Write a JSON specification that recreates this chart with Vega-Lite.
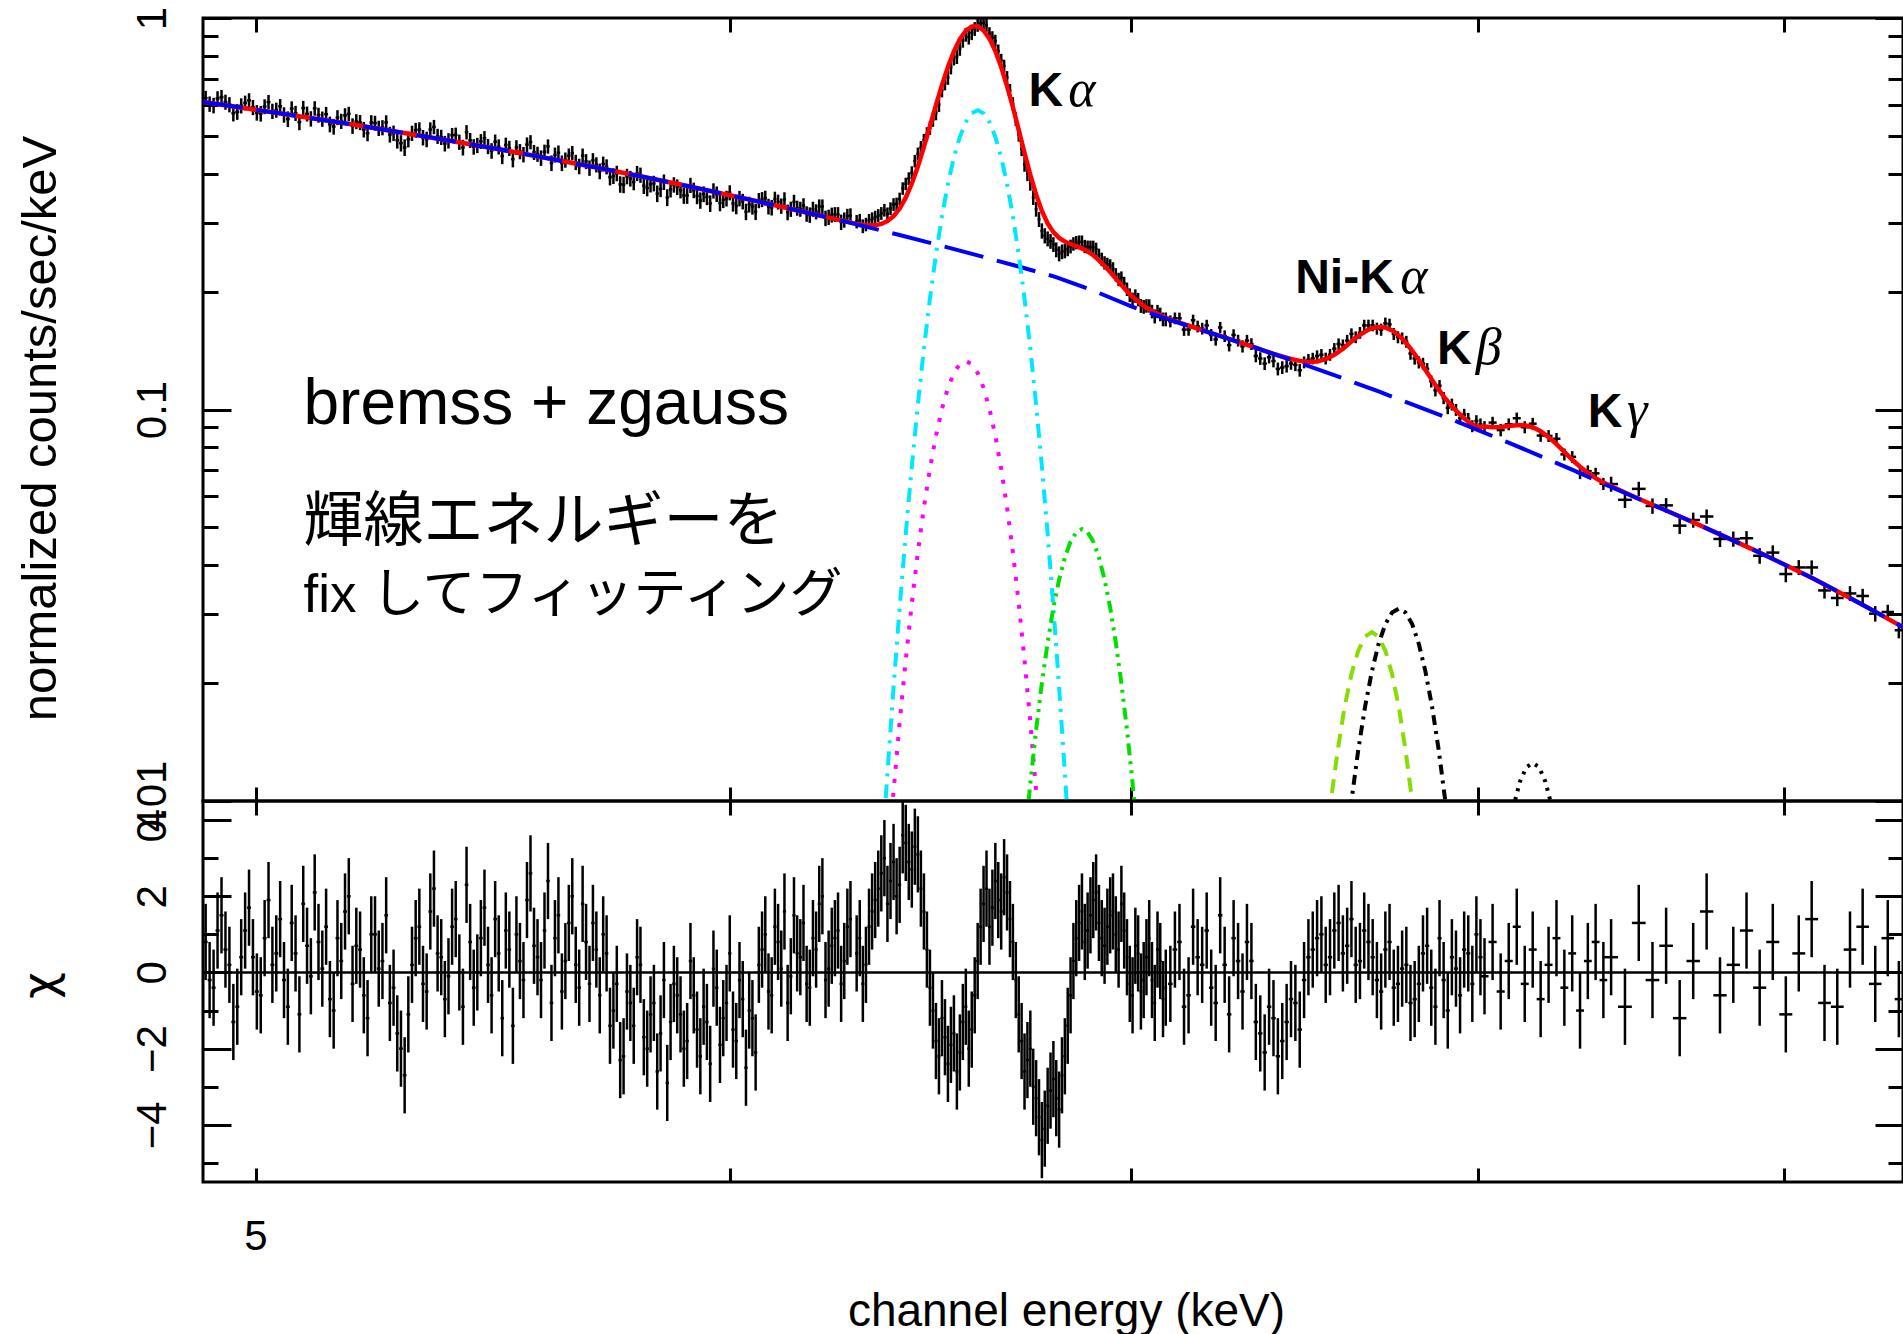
{
"$schema":"https://vega.github.io/schema/vega-lite/v6.json",
"padding":{"left":14,"top":4,"right":2,"bottom":0},
"spacing":0,
"bounds":"flush",
"datasets":{
"spec":[
{"e":4.905,"w":0.00375,"v":0.624,"s":0.0275,"c":0.8,"u":1},
{"e":4.92,"w":0.00375,"v":0.598,"s":0.0273,"c":-0.4,"u":1},
{"e":4.935,"w":0.00375,"v":0.628,"s":0.027,"c":1.5,"u":1},
{"e":4.95,"w":0.00375,"v":0.601,"s":0.0269,"c":0.2,"u":1},
{"e":4.965,"w":0.00375,"v":0.576,"s":0.0267,"c":-0.9,"u":1},
{"e":4.98,"w":0.00375,"v":0.607,"s":0.0264,"c":1.1,"u":1},
{"e":4.995,"w":0.00375,"v":0.591,"s":0.0263,"c":0.4,"u":1},
{"e":5.01,"w":0.00375,"v":0.57,"s":0.0261,"c":-0.6,"u":1},
{"e":5.025,"w":0.00375,"v":0.61,"s":0.026,"c":1.9,"u":1},
{"e":5.04,"w":0.00375,"v":0.582,"s":0.0258,"c":0.5,"u":1},
{"e":5.055,"w":0.00375,"v":0.566,"s":0.0257,"c":-0.2,"u":1},
{"e":5.07,"w":0.00375,"v":0.587,"s":0.0255,"c":1.3,"u":1},
{"e":5.085,"w":0.00375,"v":0.542,"s":0.0252,"c":-1.1,"u":1},
{"e":5.1,"w":0.00375,"v":0.569,"s":0.0251,"c":0.7,"u":1},
{"e":5.115,"w":0.00375,"v":0.588,"s":0.0249,"c":2.1,"u":1},
{"e":5.13,"w":0.00375,"v":0.552,"s":0.0248,"c":0.1,"u":1},
{"e":5.145,"w":0.00375,"v":0.535,"s":0.0246,"c":-0.7,"u":1},
{"e":5.16,"w":0.00375,"v":0.557,"s":0.0245,"c":0.9,"u":1},
{"e":5.175,"w":0.00375,"v":0.564,"s":0.0242,"c":1.6,"u":1},
{"e":5.19,"w":0.00375,"v":0.53,"s":0.0242,"c":-0.3,"u":1},
{"e":5.205,"w":0.00375,"v":0.541,"s":0.0239,"c":0.6,"u":1},
{"e":5.22,"w":0.00375,"v":0.508,"s":0.0237,"c":-1.2,"u":1},
{"e":5.235,"w":0.00375,"v":0.539,"s":0.0236,"c":1.0,"u":1},
{"e":5.25,"w":0.00375,"v":0.525,"s":0.0234,"c":0.3,"u":1},
{"e":5.265,"w":0.00375,"v":0.504,"s":0.0233,"c":-0.8,"u":1},
{"e":5.28,"w":0.00375,"v":0.487,"s":0.0231,"c":-1.6,"u":1},
{"e":5.295,"w":0.00375,"v":0.467,"s":0.0228,"c":-2.7,"u":1},
{"e":5.31,"w":0.00375,"v":0.508,"s":0.0228,"c":0.2,"u":1},
{"e":5.325,"w":0.00375,"v":0.519,"s":0.0225,"c":1.2,"u":1},
{"e":5.34,"w":0.00375,"v":0.49,"s":0.0224,"c":-0.5,"u":1},
{"e":5.355,"w":0.00375,"v":0.527,"s":0.0222,"c":2.2,"u":1},
{"e":5.37,"w":0.00375,"v":0.496,"s":0.0221,"c":0.4,"u":1},
{"e":5.385,"w":0.00375,"v":0.486,"s":0.0219,"c":-0.1,"u":1},
{"e":5.4,"w":0.00375,"v":0.503,"s":0.0218,"c":1.4,"u":1},
{"e":5.415,"w":0.00375,"v":0.467,"s":0.0216,"c":-0.9,"u":1},
{"e":5.43,"w":0.00375,"v":0.487,"s":0.0215,"c":0.8,"u":1},
{"e":5.445,"w":0.00375,"v":0.473,"s":0.0213,"c":0.0,"u":1},
{"e":5.46,"w":0.00375,"v":0.493,"s":0.0212,"c":1.7,"u":1},
{"e":5.475,"w":0.00375,"v":0.458,"s":0.021,"c":-0.6,"u":1},
{"e":5.49,"w":0.00375,"v":0.469,"s":0.0209,"c":0.5,"u":1},
{"e":5.505,"w":0.00375,"v":0.474,"s":0.0207,"c":1.1,"u":1},
{"e":5.52,"w":0.00375,"v":0.436,"s":0.0206,"c":-1.4,"u":1},
{"e":5.535,"w":0.00375,"v":0.456,"s":0.0204,"c":0.3,"u":1},
{"e":5.55,"w":0.00375,"v":0.475,"s":0.0203,"c":1.9,"u":1},
{"e":5.565,"w":0.00375,"v":0.454,"s":0.0201,"c":0.7,"u":1},
{"e":5.58,"w":0.00375,"v":0.439,"s":0.02,"c":-0.2,"u":1},
{"e":5.595,"w":0.00375,"v":0.47,"s":0.0197,"c":2.4,"u":1},
{"e":5.61,"w":0.00375,"v":0.447,"s":0.0197,"c":0.9,"u":1},
{"e":5.625,"w":0.00375,"v":0.426,"s":0.0195,"c":-0.5,"u":1},
{"e":5.64,"w":0.00375,"v":0.445,"s":0.0192,"c":1.3,"u":1},
{"e":5.655,"w":0.00375,"v":0.428,"s":0.0192,"c":0.2,"u":1},
{"e":5.67,"w":0.00375,"v":0.445,"s":0.0191,"c":1.8,"u":1},
{"e":5.685,"w":0.00375,"v":0.414,"s":0.0188,"c":-0.3,"u":1},
{"e":5.7,"w":0.00375,"v":0.422,"s":0.0188,"c":0.6,"u":1},
{"e":5.715,"w":0.00375,"v":0.424,"s":0.0186,"c":1.0,"u":1},
{"e":5.73,"w":0.00375,"v":0.392,"s":0.0185,"c":-1.4,"u":1},
{"e":5.745,"w":0.00375,"v":0.401,"s":0.0183,"c":-0.3,"u":1},
{"e":5.76,"w":0.00375,"v":0.375,"s":0.0182,"c":-2.2,"u":1},
{"e":5.775,"w":0.00375,"v":0.389,"s":0.018,"c":-0.8,"u":1},
{"e":5.79,"w":0.00375,"v":0.401,"s":0.0179,"c":0.4,"u":1},
{"e":5.805,"w":0.00375,"v":0.373,"s":0.0177,"c":-1.7,"u":1},
{"e":5.82,"w":0.00375,"v":0.376,"s":0.0176,"c":-1.1,"u":1},
{"e":5.835,"w":0.00375,"v":0.356,"s":0.0174,"c":-2.6,"u":1},
{"e":5.85,"w":0.00375,"v":0.381,"s":0.0173,"c":-0.2,"u":1},
{"e":5.865,"w":0.00375,"v":0.365,"s":0.0171,"c":-1.3,"u":1},
{"e":5.88,"w":0.00375,"v":0.37,"s":0.017,"c":-0.6,"u":1},
{"e":5.895,"w":0.00375,"v":0.352,"s":0.0168,"c":-2.0,"u":1},
{"e":5.91,"w":0.00375,"v":0.374,"s":0.0167,"c":0.3,"u":1},
{"e":5.925,"w":0.00375,"v":0.351,"s":0.0165,"c":-1.5,"u":1},
{"e":5.94,"w":0.00375,"v":0.355,"s":0.0165,"c":-0.9,"u":1},
{"e":5.955,"w":0.00375,"v":0.336,"s":0.0164,"c":-2.4,"u":1},
{"e":5.97,"w":0.00375,"v":0.355,"s":0.0162,"c":-0.4,"u":1},
{"e":5.985,"w":0.00375,"v":0.343,"s":0.0161,"c":-1.2,"u":1},
{"e":6.0,"w":0.00375,"v":0.358,"s":0.0159,"c":0.5,"u":1},
{"e":6.015,"w":0.00375,"v":0.331,"s":0.0158,"c":-1.8,"u":1},
{"e":6.03,"w":0.00375,"v":0.34,"s":0.0156,"c":-0.7,"u":1},
{"e":6.045,"w":0.00375,"v":0.334,"s":0.0155,"c":-1.0,"u":1},
{"e":6.06,"w":0.00375,"v":0.32,"s":0.0153,"c":-2.1,"u":1},
{"e":6.075,"w":0.00375,"v":0.344,"s":0.0152,"c":0.6,"u":1},
{"e":6.09,"w":0.00375,"v":0.33,"s":0.0152,"c":-0.5,"u":1},
{"e":6.105,"w":0.00375,"v":0.345,"s":0.015,"c":1.2,"u":1},
{"e":6.12,"w":0.00375,"v":0.331,"s":0.0149,"c":0.1,"u":1},
{"e":6.135,"w":0.00375,"v":0.319,"s":0.0147,"c":-0.8,"u":1},
{"e":6.15,"w":0.00375,"v":0.339,"s":0.0146,"c":1.5,"u":1},
{"e":6.165,"w":0.00375,"v":0.325,"s":0.0144,"c":0.4,"u":1},
{"e":6.18,"w":0.00375,"v":0.316,"s":0.0144,"c":-0.3,"u":1},
{"e":6.195,"w":0.00375,"v":0.325,"s":0.0143,"c":0.9,"u":1},
{"e":6.21,"w":0.00375,"v":0.33,"s":0.0141,"c":1.8,"u":1},
{"e":6.225,"w":0.00375,"v":0.308,"s":0.014,"c":-0.2,"u":1},
{"e":6.24,"w":0.00375,"v":0.314,"s":0.0138,"c":0.7,"u":1},
{"e":6.255,"w":0.00375,"v":0.315,"s":0.0138,"c":1.1,"u":1},
{"e":6.27,"w":0.00375,"v":0.305,"s":0.0137,"c":0.3,"u":1},
{"e":6.285,"w":0.00375,"v":0.313,"s":0.0135,"c":1.4,"u":1},
{"e":4.9125,"w":0.00375,"v":0.603,"s":0.0273,"c":-0.2,"u":1},
{"e":4.9275,"w":0.00375,"v":0.623,"s":0.0271,"c":1.1,"u":1},
{"e":4.9425,"w":0.00375,"v":0.61,"s":0.027,"c":0.6,"u":1},
{"e":4.9575,"w":0.00375,"v":0.571,"s":0.0268,"c":-1.3,"u":1},
{"e":4.9725,"w":0.00375,"v":0.597,"s":0.0266,"c":0.4,"u":1},
{"e":4.9875,"w":0.00375,"v":0.616,"s":0.0264,"c":1.7,"u":1},
{"e":5.0025,"w":0.00375,"v":0.573,"s":0.0262,"c":-0.5,"u":1},
{"e":5.0175,"w":0.00375,"v":0.594,"s":0.026,"c":0.9,"u":1},
{"e":5.0325,"w":0.00375,"v":0.578,"s":0.0259,"c":0.2,"u":1},
{"e":5.0475,"w":0.00375,"v":0.595,"s":0.0257,"c":1.4,"u":1},
{"e":5.0625,"w":0.00375,"v":0.552,"s":0.0255,"c":-0.9,"u":1},
{"e":5.0775,"w":0.00375,"v":0.571,"s":0.0253,"c":0.5,"u":1},
{"e":5.0925,"w":0.00375,"v":0.589,"s":0.0252,"c":1.8,"u":1},
{"e":5.1075,"w":0.00375,"v":0.553,"s":0.025,"c":-0.1,"u":1},
{"e":5.1225,"w":0.00375,"v":0.565,"s":0.0248,"c":0.8,"u":1},
{"e":5.1375,"w":0.00375,"v":0.568,"s":0.0247,"c":1.2,"u":1},
{"e":5.1525,"w":0.00375,"v":0.528,"s":0.0245,"c":-1.0,"u":1},
{"e":5.1675,"w":0.00375,"v":0.545,"s":0.0243,"c":0.3,"u":1},
{"e":5.1825,"w":0.00375,"v":0.569,"s":0.0241,"c":2.0,"u":1},
{"e":5.1975,"w":0.00375,"v":0.544,"s":0.024,"c":0.7,"u":1},
{"e":5.2125,"w":0.00375,"v":0.519,"s":0.0238,"c":-0.6,"u":1},
{"e":5.2275,"w":0.00375,"v":0.541,"s":0.0236,"c":1.0,"u":1},
{"e":5.2425,"w":0.00375,"v":0.523,"s":0.0235,"c":0.1,"u":1},
{"e":5.2575,"w":0.00375,"v":0.541,"s":0.0233,"c":1.5,"u":1},
{"e":5.2725,"w":0.00375,"v":0.508,"s":0.0231,"c":-0.4,"u":1},
{"e":5.2875,"w":0.00375,"v":0.479,"s":0.023,"c":-2.0,"u":1},
{"e":5.3025,"w":0.00375,"v":0.49,"s":0.0228,"c":-1.1,"u":1},
{"e":5.3175,"w":0.00375,"v":0.517,"s":0.0226,"c":0.9,"u":1},
{"e":5.3325,"w":0.00375,"v":0.495,"s":0.0225,"c":-0.3,"u":1},
{"e":5.3475,"w":0.00375,"v":0.519,"s":0.0223,"c":1.6,"u":1},
{"e":5.3625,"w":0.00375,"v":0.499,"s":0.0221,"c":0.5,"u":1},
{"e":5.3775,"w":0.00375,"v":0.478,"s":0.022,"c":-0.7,"u":1},
{"e":5.3925,"w":0.00375,"v":0.502,"s":0.0218,"c":1.2,"u":1},
{"e":5.4075,"w":0.00375,"v":0.482,"s":0.0217,"c":0.0,"u":1},
{"e":5.4225,"w":0.00375,"v":0.511,"s":0.0215,"c":2.3,"u":1},
{"e":5.4375,"w":0.00375,"v":0.469,"s":0.0214,"c":-0.4,"u":1},
{"e":5.4525,"w":0.00375,"v":0.484,"s":0.0212,"c":0.9,"u":1},
{"e":5.4675,"w":0.00375,"v":0.47,"s":0.021,"c":0.2,"u":1},
{"e":5.4825,"w":0.00375,"v":0.483,"s":0.0209,"c":1.4,"u":1},
{"e":5.4975,"w":0.00375,"v":0.444,"s":0.0207,"c":-1.2,"u":1},
{"e":5.5125,"w":0.00375,"v":0.465,"s":0.0206,"c":0.6,"u":1},
{"e":5.5275,"w":0.00375,"v":0.467,"s":0.0204,"c":1.0,"u":1},
{"e":5.5425,"w":0.00375,"v":0.448,"s":0.0203,"c":-0.2,"u":1},
{"e":5.5575,"w":0.00375,"v":0.482,"s":0.0201,"c":2.6,"u":1},
{"e":5.5725,"w":0.00375,"v":0.449,"s":0.02,"c":0.4,"u":1},
{"e":5.5875,"w":0.00375,"v":0.455,"s":0.0198,"c":1.1,"u":1},
{"e":5.6025,"w":0.00375,"v":0.426,"s":0.0196,"c":-0.8,"u":1},
{"e":5.6175,"w":0.00375,"v":0.453,"s":0.0195,"c":1.5,"u":1},
{"e":5.6325,"w":0.00375,"v":0.434,"s":0.0194,"c":0.3,"u":1},
{"e":5.6475,"w":0.00375,"v":0.452,"s":0.0192,"c":2.0,"u":1},
{"e":5.6625,"w":0.00375,"v":0.418,"s":0.0191,"c":-0.4,"u":1},
{"e":5.6775,"w":0.00375,"v":0.43,"s":0.0189,"c":0.8,"u":1},
{"e":5.6925,"w":0.00375,"v":0.433,"s":0.0187,"c":1.3,"u":1},
{"e":5.7075,"w":0.00375,"v":0.406,"s":0.0186,"c":-0.6,"u":1},
{"e":5.7225,"w":0.00375,"v":0.417,"s":0.0185,"c":0.5,"u":1},
{"e":5.7375,"w":0.00375,"v":0.395,"s":0.0183,"c":-1.0,"u":1},
{"e":5.7525,"w":0.00375,"v":0.376,"s":0.0182,"c":-2.3,"u":1},
{"e":5.7675,"w":0.00375,"v":0.394,"s":0.018,"c":-0.5,"u":1},
{"e":5.7825,"w":0.00375,"v":0.381,"s":0.0179,"c":-1.4,"u":1},
{"e":5.7975,"w":0.00375,"v":0.397,"s":0.0178,"c":0.2,"u":1},
{"e":5.8125,"w":0.00375,"v":0.368,"s":0.0176,"c":-2.0,"u":1},
{"e":5.8275,"w":0.00375,"v":0.378,"s":0.0174,"c":-0.8,"u":1},
{"e":5.8425,"w":0.00375,"v":0.366,"s":0.0173,"c":-1.6,"u":1},
{"e":5.8575,"w":0.00375,"v":0.348,"s":0.0172,"c":-2.9,"u":1},
{"e":5.8725,"w":0.00375,"v":0.375,"s":0.017,"c":-0.3,"u":1},
{"e":5.8875,"w":0.00375,"v":0.363,"s":0.0169,"c":-1.1,"u":1},
{"e":5.9025,"w":0.00375,"v":0.352,"s":0.0168,"c":-1.8,"u":1},
{"e":5.9175,"w":0.00375,"v":0.363,"s":0.0166,"c":-0.6,"u":1},
{"e":5.9325,"w":0.00375,"v":0.342,"s":0.0165,"c":-2.2,"u":1},
{"e":5.9475,"w":0.00375,"v":0.349,"s":0.0164,"c":-1.3,"u":1},
{"e":5.9625,"w":0.00375,"v":0.362,"s":0.0162,"c":0.1,"u":1},
{"e":5.9775,"w":0.00375,"v":0.337,"s":0.0161,"c":-1.9,"u":1},
{"e":5.9925,"w":0.00375,"v":0.346,"s":0.016,"c":-0.8,"u":1},
{"e":6.0075,"w":0.00375,"v":0.336,"s":0.0158,"c":-1.5,"u":1},
{"e":6.0225,"w":0.00375,"v":0.346,"s":0.0157,"c":-0.2,"u":1},
{"e":6.0375,"w":0.00375,"v":0.32,"s":0.0155,"c":-2.5,"u":1},
{"e":6.0525,"w":0.00375,"v":0.33,"s":0.0154,"c":-1.2,"u":1},
{"e":6.0675,"w":0.00375,"v":0.342,"s":0.0153,"c":0.2,"u":1},
{"e":6.0825,"w":0.00375,"v":0.347,"s":0.0151,"c":1.0,"u":1},
{"e":6.0975,"w":0.00375,"v":0.328,"s":0.015,"c":-0.6,"u":1},
{"e":6.1125,"w":0.00375,"v":0.339,"s":0.0149,"c":0.8,"u":1},
{"e":6.1275,"w":0.00375,"v":0.344,"s":0.0148,"c":1.6,"u":1},
{"e":6.1425,"w":0.00375,"v":0.325,"s":0.0146,"c":-0.1,"u":1},
{"e":6.1575,"w":0.00375,"v":0.327,"s":0.0145,"c":0.5,"u":1},
{"e":6.1725,"w":0.00375,"v":0.332,"s":0.0144,"c":1.3,"u":1},
{"e":6.1875,"w":0.00375,"v":0.314,"s":0.0143,"c":-0.4,"u":1},
{"e":6.2025,"w":0.00375,"v":0.32,"s":0.0142,"c":0.6,"u":1},
{"e":6.2175,"w":0.00375,"v":0.33,"s":0.014,"c":2.0,"u":1},
{"e":6.2325,"w":0.00375,"v":0.31,"s":0.0139,"c":0.1,"u":1},
{"e":6.2475,"w":0.00375,"v":0.315,"s":0.0138,"c":0.9,"u":1},
{"e":6.2625,"w":0.00375,"v":0.301,"s":0.0137,"c":-0.3,"u":1},
{"e":6.2775,"w":0.00375,"v":0.312,"s":0.0135,"c":1.2,"u":1},
{"e":6.3,"w":0.00375,"v":0.302,"s":0.0119,"c":0.5,"u":1},
{"e":6.315,"w":0.00375,"v":0.294,"s":0.0119,"c":-0.3,"u":1},
{"e":6.33,"w":0.00375,"v":0.304,"s":0.0118,"c":1.2,"u":1},
{"e":6.345,"w":0.00375,"v":0.31,"s":0.0118,"c":1.9,"u":1},
{"e":6.36,"w":0.00375,"v":0.317,"s":0.0119,"c":2.6,"u":1},
{"e":6.375,"w":0.00375,"v":0.316,"s":0.0121,"c":1.8,"u":1},
{"e":6.39,"w":0.00375,"v":0.334,"s":0.0125,"c":2.9,"u":1},
{"e":6.405,"w":0.00375,"v":0.345,"s":0.013,"c":2.3,"u":1},
{"e":6.42,"w":0.00375,"v":0.377,"s":0.0139,"c":3.4,"u":1},
{"e":6.435,"w":0.00375,"v":0.403,"s":0.0151,"c":2.7,"u":1},
{"e":6.45,"w":0.00375,"v":0.45,"s":0.0167,"c":3.1,"u":1},
{"e":6.465,"w":0.00375,"v":0.487,"s":0.0187,"c":1.6,"u":1},
{"e":6.48,"w":0.00375,"v":0.524,"s":0.0212,"c":-0.4,"u":1},
{"e":6.495,"w":0.00375,"v":0.572,"s":0.024,"c":-1.8,"u":1},
{"e":6.51,"w":0.00375,"v":0.654,"s":0.027,"c":-1.2,"u":1},
{"e":6.525,"w":0.00375,"v":0.705,"s":0.03,"c":-2.4,"u":1},
{"e":6.54,"w":0.00375,"v":0.789,"s":0.0329,"c":-1.6,"u":1},
{"e":6.555,"w":0.00375,"v":0.836,"s":0.0353,"c":-2.1,"u":1},
{"e":6.57,"w":0.00375,"v":0.907,"s":0.0371,"c":-0.9,"u":1},
{"e":6.585,"w":0.00375,"v":0.916,"s":0.0381,"c":-1.5,"u":1},
{"e":6.6,"w":0.00375,"v":0.96,"s":0.0381,"c":0.3,"u":1},
{"e":6.615,"w":0.00375,"v":0.972,"s":0.0372,"c":1.8,"u":1},
{"e":6.63,"w":0.00375,"v":0.912,"s":0.0354,"c":1.2,"u":1},
{"e":6.645,"w":0.00375,"v":0.873,"s":0.0329,"c":2.4,"u":1},
{"e":6.66,"w":0.00375,"v":0.78,"s":0.03,"c":1.6,"u":1},
{"e":6.675,"w":0.00375,"v":0.705,"s":0.0268,"c":2.1,"u":1},
{"e":6.69,"w":0.00375,"v":0.604,"s":0.0237,"c":0.8,"u":1},
{"e":6.705,"w":0.00375,"v":0.504,"s":0.0207,"c":-1.1,"u":1},
{"e":6.72,"w":0.00375,"v":0.423,"s":0.0181,"c":-2.6,"u":1},
{"e":6.735,"w":0.00375,"v":0.378,"s":0.0159,"c":-2.0,"u":1},
{"e":6.75,"w":0.00375,"v":0.325,"s":0.0142,"c":-3.3,"u":1},
{"e":6.765,"w":0.00375,"v":0.286,"s":0.0129,"c":-4.4,"u":1},
{"e":6.78,"w":0.00375,"v":0.273,"s":0.012,"c":-3.5,"u":1},
{"e":6.795,"w":0.00375,"v":0.264,"s":0.0114,"c":-2.8,"u":1},
{"e":6.81,"w":0.00375,"v":0.25,"s":0.011,"c":-3.6,"u":1},
{"e":6.825,"w":0.00375,"v":0.254,"s":0.0107,"c":-2.2,"u":1},
{"e":6.84,"w":0.00375,"v":0.261,"s":0.0106,"c":-0.6,"u":1},
{"e":6.855,"w":0.00375,"v":0.267,"s":0.0105,"c":0.9,"u":1},
{"e":6.87,"w":0.00375,"v":0.268,"s":0.0103,"c":1.6,"u":1},
{"e":6.885,"w":0.00375,"v":0.26,"s":0.0101,"c":1.1,"u":1},
{"e":6.9,"w":0.00375,"v":0.26,"s":0.0099,"c":1.9,"u":1},
{"e":6.915,"w":0.00375,"v":0.248,"s":0.0096,"c":1.3,"u":1},
{"e":6.93,"w":0.00375,"v":0.237,"s":0.0093,"c":0.7,"u":1},
{"e":6.945,"w":0.00375,"v":0.233,"s":0.009,"c":1.5,"u":1},
{"e":6.96,"w":0.00375,"v":0.221,"s":0.0086,"c":1.0,"u":1},
{"e":6.975,"w":0.00375,"v":0.217,"s":0.0083,"c":1.8,"u":1},
{"e":6.99,"w":0.00375,"v":0.203,"s":0.008,"c":0.4,"u":1},
{"e":7.005,"w":0.00375,"v":0.191,"s":0.0078,"c":-0.6,"u":1},
{"e":7.02,"w":0.00375,"v":0.191,"s":0.0075,"c":0.5,"u":1},
{"e":7.035,"w":0.00375,"v":0.183,"s":0.0074,"c":-0.2,"u":1},
{"e":7.05,"w":0.00375,"v":0.184,"s":0.0072,"c":0.9,"u":1},
{"e":7.065,"w":0.00375,"v":0.173,"s":0.0071,"c":-0.8,"u":1},
{"e":7.08,"w":0.00375,"v":0.175,"s":0.007,"c":0.3,"u":1},
{"e":7.095,"w":0.00375,"v":0.17,"s":0.0069,"c":-0.4,"u":1},
{"e":6.3075,"w":0.00375,"v":0.304,"s":0.0119,"c":0.9,"u":1},
{"e":6.3225,"w":0.00375,"v":0.297,"s":0.0118,"c":0.2,"u":1},
{"e":6.3375,"w":0.00375,"v":0.307,"s":0.0118,"c":1.6,"u":1},
{"e":6.3525,"w":0.00375,"v":0.313,"s":0.0119,"c":2.2,"u":1},
{"e":6.3675,"w":0.00375,"v":0.323,"s":0.012,"c":3.0,"u":1},
{"e":6.3825,"w":0.00375,"v":0.326,"s":0.0123,"c":2.4,"u":1},
{"e":6.3975,"w":0.00375,"v":0.335,"s":0.0128,"c":2.0,"u":1},
{"e":6.4125,"w":0.00375,"v":0.367,"s":0.0135,"c":3.6,"u":1},
{"e":6.4275,"w":0.00375,"v":0.389,"s":0.0145,"c":2.9,"u":1},
{"e":6.4425,"w":0.00375,"v":0.431,"s":0.0159,"c":3.3,"u":1},
{"e":6.4575,"w":0.00375,"v":0.467,"s":0.0177,"c":2.2,"u":1},
{"e":6.4725,"w":0.00375,"v":0.506,"s":0.02,"c":0.6,"u":1},
{"e":6.4875,"w":0.00375,"v":0.55,"s":0.0226,"c":-1.0,"u":1},
{"e":6.5025,"w":0.00375,"v":0.601,"s":0.0255,"c":-2.2,"u":1},
{"e":6.5175,"w":0.00375,"v":0.682,"s":0.0285,"c":-1.7,"u":1},
{"e":6.5325,"w":0.00375,"v":0.749,"s":0.0314,"c":-1.9,"u":1},
{"e":6.5475,"w":0.00375,"v":0.797,"s":0.0341,"c":-2.6,"u":1},
{"e":6.5625,"w":0.00375,"v":0.876,"s":0.0362,"c":-1.3,"u":1},
{"e":6.5775,"w":0.00375,"v":0.893,"s":0.0376,"c":-2.0,"u":1},
{"e":6.5925,"w":0.00375,"v":0.938,"s":0.0381,"c":-0.6,"u":1},
{"e":6.6075,"w":0.00375,"v":0.97,"s":0.0377,"c":1.2,"u":1},
{"e":6.6225,"w":0.00375,"v":0.958,"s":0.0363,"c":2.2,"u":1},
{"e":6.6375,"w":0.00375,"v":0.891,"s":0.0342,"c":1.7,"u":1},
{"e":6.6525,"w":0.00375,"v":0.824,"s":0.0315,"c":1.9,"u":1},
{"e":6.6675,"w":0.00375,"v":0.754,"s":0.0284,"c":2.5,"u":1},
{"e":6.6825,"w":0.00375,"v":0.653,"s":0.0252,"c":1.4,"u":1},
{"e":6.6975,"w":0.00375,"v":0.552,"s":0.0222,"c":-0.2,"u":1},
{"e":6.7125,"w":0.00375,"v":0.463,"s":0.0194,"c":-1.8,"u":1},
{"e":6.7275,"w":0.00375,"v":0.4,"s":0.017,"c":-2.3,"u":1},
{"e":6.7425,"w":0.00375,"v":0.348,"s":0.015,"c":-3.0,"u":1},
{"e":6.7575,"w":0.00375,"v":0.306,"s":0.0135,"c":-3.8,"u":1},
{"e":6.7725,"w":0.00375,"v":0.278,"s":0.0124,"c":-4.1,"u":1},
{"e":6.7875,"w":0.00375,"v":0.269,"s":0.0117,"c":-3.1,"u":1},
{"e":6.8025,"w":0.00375,"v":0.256,"s":0.0112,"c":-3.3,"u":1},
{"e":6.8175,"w":0.00375,"v":0.253,"s":0.0109,"c":-2.7,"u":1},
{"e":6.8325,"w":0.00375,"v":0.257,"s":0.0107,"c":-1.4,"u":1},
{"e":6.8475,"w":0.00375,"v":0.265,"s":0.0105,"c":0.3,"u":1},
{"e":6.8625,"w":0.00375,"v":0.268,"s":0.0104,"c":1.3,"u":1},
{"e":6.8775,"w":0.00375,"v":0.261,"s":0.0102,"c":0.8,"u":1},
{"e":6.8925,"w":0.00375,"v":0.26,"s":0.01,"c":1.5,"u":1},
{"e":6.9075,"w":0.00375,"v":0.257,"s":0.0098,"c":2.1,"u":1},
{"e":6.9225,"w":0.00375,"v":0.242,"s":0.0095,"c":0.9,"u":1},
{"e":6.9375,"w":0.00375,"v":0.235,"s":0.0091,"c":1.2,"u":1},
{"e":6.9525,"w":0.00375,"v":0.229,"s":0.0088,"c":1.6,"u":1},
{"e":6.9675,"w":0.00375,"v":0.215,"s":0.0085,"c":0.6,"u":1},
{"e":6.9825,"w":0.00375,"v":0.21,"s":0.0082,"c":1.1,"u":1},
{"e":6.9975,"w":0.00375,"v":0.196,"s":0.0079,"c":-0.3,"u":1},
{"e":7.0125,"w":0.00375,"v":0.195,"s":0.0077,"c":0.7,"u":1},
{"e":7.0275,"w":0.00375,"v":0.184,"s":0.0075,"c":-0.5,"u":1},
{"e":7.0425,"w":0.00375,"v":0.184,"s":0.0073,"c":0.4,"u":1},
{"e":7.0575,"w":0.00375,"v":0.178,"s":0.0071,"c":-0.2,"u":1},
{"e":7.0725,"w":0.00375,"v":0.178,"s":0.007,"c":0.6,"u":1},
{"e":7.0875,"w":0.00375,"v":0.17,"s":0.0069,"c":-0.7,"u":1},
{"e":7.12,"w":0.00625,"v":0.171,"s":0.0059,"c":0.6,"u":1},
{"e":7.145,"w":0.00625,"v":0.16,"s":0.0058,"c":-0.9,"u":1},
{"e":7.17,"w":0.00625,"v":0.169,"s":0.0057,"c":1.2,"u":1},
{"e":7.195,"w":0.00625,"v":0.161,"s":0.0056,"c":0.2,"u":1},
{"e":7.22,"w":0.00625,"v":0.155,"s":0.0055,"c":-0.4,"u":1},
{"e":7.245,"w":0.00625,"v":0.162,"s":0.0054,"c":1.5,"u":1},
{"e":7.27,"w":0.00625,"v":0.146,"s":0.0053,"c":-1.1,"u":1},
{"e":7.295,"w":0.00625,"v":0.15,"s":0.0052,"c":0.3,"u":1},
{"e":7.32,"w":0.00625,"v":0.15,"s":0.0051,"c":0.8,"u":1},
{"e":7.345,"w":0.00625,"v":0.137,"s":0.005,"c":-1.3,"u":1},
{"e":7.37,"w":0.00625,"v":0.131,"s":0.0049,"c":-2.1,"u":1},
{"e":7.395,"w":0.00625,"v":0.133,"s":0.0049,"c":-1.2,"u":1},
{"e":7.42,"w":0.00625,"v":0.128,"s":0.0048,"c":-1.8,"u":1},
{"e":7.445,"w":0.00625,"v":0.131,"s":0.0047,"c":-0.7,"u":1},
{"e":7.47,"w":0.00625,"v":0.126,"s":0.0047,"c":-1.5,"u":1},
{"e":7.495,"w":0.00625,"v":0.134,"s":0.0046,"c":0.4,"u":1},
{"e":7.52,"w":0.00625,"v":0.137,"s":0.0046,"c":0.9,"u":1},
{"e":7.545,"w":0.00625,"v":0.135,"s":0.0047,"c":0.2,"u":1},
{"e":7.57,"w":0.00625,"v":0.143,"s":0.0048,"c":1.1,"u":1},
{"e":7.595,"w":0.00625,"v":0.146,"s":0.005,"c":0.5,"u":1},
{"e":7.62,"w":0.00625,"v":0.156,"s":0.0052,"c":1.4,"u":1},
{"e":7.645,"w":0.00625,"v":0.157,"s":0.0054,"c":0.3,"u":1},
{"e":7.67,"w":0.00625,"v":0.164,"s":0.0056,"c":0.8,"u":1},
{"e":7.695,"w":0.00625,"v":0.161,"s":0.0057,"c":-0.2,"u":1},
{"e":7.72,"w":0.00625,"v":0.166,"s":0.0057,"c":0.6,"u":1},
{"e":7.745,"w":0.00625,"v":0.156,"s":0.0055,"c":-0.4,"u":1},
{"e":7.77,"w":0.00625,"v":0.152,"s":0.0053,"c":0.1,"u":1},
{"e":7.795,"w":0.00625,"v":0.139,"s":0.005,"c":-0.8,"u":1},
{"e":7.82,"w":0.00625,"v":0.132,"s":0.0047,"c":-0.3,"u":1},
{"e":7.845,"w":0.00625,"v":0.127,"s":0.0044,"c":0.7,"u":1},
{"e":7.87,"w":0.00625,"v":0.112,"s":0.004,"c":-0.9,"u":1},
{"e":7.895,"w":0.00625,"v":0.107,"s":0.0038,"c":-0.2,"u":1},
{"e":7.92,"w":0.00625,"v":0.103,"s":0.0036,"c":0.4,"u":1},
{"e":7.945,"w":0.00625,"v":0.095,"s":0.0034,"c":-0.6,"u":1},
{"e":7.97,"w":0.00625,"v":0.0947,"s":0.0033,"c":0.5,"u":1},
{"e":7.995,"w":0.00625,"v":0.0935,"s":0.0032,"c":1.0,"u":1},
{"e":7.1075,"w":0.00625,"v":0.168,"s":0.0059,"c":-0.3,"u":1},
{"e":7.1325,"w":0.00625,"v":0.171,"s":0.0058,"c":0.8,"u":1},
{"e":7.1575,"w":0.00625,"v":0.16,"s":0.0057,"c":-0.6,"u":1},
{"e":7.1825,"w":0.00625,"v":0.163,"s":0.0056,"c":0.4,"u":1},
{"e":7.2075,"w":0.00625,"v":0.164,"s":0.0055,"c":1.1,"u":1},
{"e":7.2325,"w":0.00625,"v":0.151,"s":0.0054,"c":-0.8,"u":1},
{"e":7.2575,"w":0.00625,"v":0.154,"s":0.0053,"c":0.2,"u":1},
{"e":7.2825,"w":0.00625,"v":0.155,"s":0.0053,"c":0.9,"u":1},
{"e":7.3075,"w":0.00625,"v":0.145,"s":0.0052,"c":-0.5,"u":1},
{"e":7.3325,"w":0.00625,"v":0.147,"s":0.0051,"c":0.3,"u":1},
{"e":7.3575,"w":0.00625,"v":0.135,"s":0.005,"c":-1.6,"u":1},
{"e":7.3825,"w":0.00625,"v":0.136,"s":0.0049,"c":-0.9,"u":1},
{"e":7.4075,"w":0.00625,"v":0.127,"s":0.0048,"c":-2.2,"u":1},
{"e":7.4325,"w":0.00625,"v":0.129,"s":0.0047,"c":-1.3,"u":1},
{"e":7.4575,"w":0.00625,"v":0.13,"s":0.0047,"c":-0.8,"u":1},
{"e":7.4825,"w":0.00625,"v":0.132,"s":0.0046,"c":-0.2,"u":1},
{"e":7.5075,"w":0.00625,"v":0.135,"s":0.0046,"c":0.6,"u":1},
{"e":7.5325,"w":0.00625,"v":0.138,"s":0.0047,"c":1.0,"u":1},
{"e":7.5575,"w":0.00625,"v":0.138,"s":0.0048,"c":0.4,"u":1},
{"e":7.5825,"w":0.00625,"v":0.147,"s":0.0049,"c":1.3,"u":1},
{"e":7.6075,"w":0.00625,"v":0.15,"s":0.0051,"c":0.7,"u":1},
{"e":7.6325,"w":0.00625,"v":0.153,"s":0.0053,"c":0.2,"u":1},
{"e":7.6575,"w":0.00625,"v":0.164,"s":0.0055,"c":1.1,"u":1},
{"e":7.6825,"w":0.00625,"v":0.164,"s":0.0056,"c":0.4,"u":1},
{"e":7.7075,"w":0.00625,"v":0.16,"s":0.0057,"c":-0.5,"u":1},
{"e":7.7325,"w":0.00625,"v":0.165,"s":0.0056,"c":0.8,"u":1},
{"e":7.7575,"w":0.00625,"v":0.153,"s":0.0054,"c":-0.3,"u":1},
{"e":7.7825,"w":0.00625,"v":0.149,"s":0.0052,"c":0.2,"u":1},
{"e":7.8075,"w":0.00625,"v":0.135,"s":0.0048,"c":-0.7,"u":1},
{"e":7.8325,"w":0.00625,"v":0.131,"s":0.0045,"c":0.5,"u":1},
{"e":7.8575,"w":0.00625,"v":0.118,"s":0.0042,"c":-0.4,"u":1},
{"e":7.8825,"w":0.00625,"v":0.115,"s":0.0039,"c":0.9,"u":1},
{"e":7.9075,"w":0.00625,"v":0.101,"s":0.0037,"c":-1.0,"u":1},
{"e":7.9325,"w":0.00625,"v":0.0998,"s":0.0035,"c":0.1,"u":1},
{"e":7.9575,"w":0.00625,"v":0.0971,"s":0.0033,"c":0.6,"u":1},
{"e":7.9825,"w":0.00625,"v":0.0907,"s":0.0032,"c":-0.3,"u":1},
{"e":8.0075,"w":0.00625,"v":0.0917,"s":0.0032,"c":0.4,"u":1},
{"e":8.02,"w":0.0125,"v":0.0902,"s":0.0032,"c":-0.1,"u":1},
{"e":8.045,"w":0.0125,"v":0.0926,"s":0.0032,"c":0.8,"u":1},
{"e":8.07,"w":0.0125,"v":0.0886,"s":0.0032,"c":-0.5,"u":1},
{"e":8.095,"w":0.0125,"v":0.0917,"s":0.0032,"c":0.3,"u":1},
{"e":8.12,"w":0.0125,"v":0.095,"s":0.0032,"c":1.2,"u":1},
{"e":8.145,"w":0.0125,"v":0.0901,"s":0.0032,"c":-0.3,"u":1},
{"e":8.17,"w":0.0125,"v":0.092,"s":0.0032,"c":0.6,"u":1},
{"e":8.195,"w":0.0125,"v":0.0858,"s":0.0031,"c":-0.7,"u":1},
{"e":8.22,"w":0.0125,"v":0.0856,"s":0.003,"c":0.2,"u":1},
{"e":8.245,"w":0.0125,"v":0.0842,"s":0.0029,"c":0.9,"u":1},
{"e":8.27,"w":0.0125,"v":0.0768,"s":0.0027,"c":-0.4,"u":1},
{"e":8.295,"w":0.0125,"v":0.0757,"s":0.0026,"c":0.5,"u":1},
{"e":8.32,"w":0.0125,"v":0.0689,"s":0.0025,"c":-1.0,"u":1},
{"e":8.345,"w":0.0125,"v":0.0696,"s":0.0024,"c":0.3,"u":1},
{"e":8.37,"w":0.0125,"v":0.0687,"s":0.0023,"c":0.8,"u":1},
{"e":8.395,"w":0.0125,"v":0.0646,"s":0.0023,"c":-0.2,"u":1},
{"e":8.42,"w":0.0225,"v":0.0645,"s":0.00285,"c":0.4,"u":1},
{"e":8.465,"w":0.0225,"v":0.0588,"s":0.00276,"c":-0.9,"u":1},
{"e":8.51,"w":0.0225,"v":0.0627,"s":0.00266,"c":1.3,"u":1},
{"e":8.555,"w":0.0225,"v":0.0567,"s":0.00257,"c":-0.2,"u":1},
{"e":8.6,"w":0.0225,"v":0.0569,"s":0.00248,"c":0.7,"u":1},
{"e":8.645,"w":0.0225,"v":0.0505,"s":0.0024,"c":-1.2,"u":1},
{"e":8.69,"w":0.0225,"v":0.0522,"s":0.00232,"c":0.3,"u":1},
{"e":8.735,"w":0.0225,"v":0.0533,"s":0.00224,"c":1.6,"u":1},
{"e":8.78,"w":0.0225,"v":0.0467,"s":0.00216,"c":-0.6,"u":1},
{"e":8.825,"w":0.0225,"v":0.0467,"s":0.00208,"c":0.2,"u":1},
{"e":8.87,"w":0.0225,"v":0.0469,"s":0.00201,"c":1.1,"u":1},
{"e":8.915,"w":0.0225,"v":0.0423,"s":0.00194,"c":-0.4,"u":1},
{"e":8.96,"w":0.0225,"v":0.0431,"s":0.00187,"c":0.8,"u":1},
{"e":9.005,"w":0.0225,"v":0.038,"s":0.0018,"c":-1.1,"u":1},
{"e":9.05,"w":0.0225,"v":0.0395,"s":0.00174,"c":0.5,"u":1},
{"e":9.095,"w":0.0225,"v":0.0395,"s":0.00167,"c":1.4,"u":1},
{"e":9.14,"w":0.0225,"v":0.0345,"s":0.00161,"c":-0.8,"u":1},
{"e":9.185,"w":0.0225,"v":0.033,"s":0.00155,"c":-0.9,"u":1},
{"e":9.23,"w":0.0225,"v":0.0339,"s":0.00149,"c":0.6,"u":1},
{"e":9.275,"w":0.0225,"v":0.0334,"s":0.00143,"c":1.2,"u":1},
{"e":9.32,"w":0.0225,"v":0.0301,"s":0.00137,"c":-0.3,"u":1},
{"e":9.365,"w":0.0225,"v":0.0304,"s":0.00131,"c":0.9,"u":1},
{"e":9.405,"w":0.015,"v":0.0273,"s":0.00127,"c":-0.7,"u":1}
],
"mdl":[
{"e":4.9,"m":0.61},{"e":5.0,"m":0.583},{"e":5.1,"m":0.557},{"e":5.2,"m":0.532},{"e":5.3,"m":0.507},{"e":5.4,"m":0.483},{"e":5.5,"m":0.46},{"e":5.6,"m":0.437},{"e":5.7,"m":0.415},{"e":5.8,"m":0.3935},{"e":5.9,"m":0.3727},{"e":6.0,"m":0.3527},{"e":6.1,"m":0.3334},{"e":6.2,"m":0.3148},
{"e":6.3,"m":0.298},{"e":6.315,"m":0.2964},{"e":6.33,"m":0.2954},{"e":6.345,"m":0.2957},{"e":6.36,"m":0.2978},{"e":6.375,"m":0.3028},{"e":6.39,"m":0.3116},{"e":6.405,"m":0.3261},{"e":6.42,"m":0.3475},{"e":6.435,"m":0.3777},{"e":6.45,"m":0.4177},{"e":6.465,"m":0.4684},{"e":6.48,"m":0.5292},{"e":6.495,"m":0.5988},{"e":6.51,"m":0.6738},{"e":6.525,"m":0.75},{"e":6.54,"m":0.8216},{"e":6.555,"m":0.8826},{"e":6.57,"m":0.9274},{"e":6.585,"m":0.9517},{"e":6.6,"m":0.9526},{"e":6.615,"m":0.9299},{"e":6.63,"m":0.8856},{"e":6.645,"m":0.8237},{"e":6.66,"m":0.7496},{"e":6.675,"m":0.6695},{"e":6.69,"m":0.5923},{"e":6.705,"m":0.5179},{"e":6.72,"m":0.4522},{"e":6.735,"m":0.3974},{"e":6.75,"m":0.3539},{"e":6.765,"m":0.3216},{"e":6.78,"m":0.2988},{"e":6.795,"m":0.2838},{"e":6.81,"m":0.2743},{"e":6.825,"m":0.2685},{"e":6.84,"m":0.2647},{"e":6.855,"m":0.2614},{"e":6.87,"m":0.2579},{"e":6.885,"m":0.2535},{"e":6.9,"m":0.2478},{"e":6.915,"m":0.2405},{"e":6.93,"m":0.2327},{"e":6.945,"m":0.2245},{"e":6.96,"m":0.216},{"e":6.975,"m":0.208},{"e":6.99,"m":0.2006},{"e":7.005,"m":0.194},{"e":7.02,"m":0.1887},{"e":7.035,"m":0.1842},{"e":7.05,"m":0.1803},{"e":7.065,"m":0.177},{"e":7.08,"m":0.1741},{"e":7.095,"m":0.1716},
{"e":7.12,"m":0.1679},{"e":7.145,"m":0.1651},{"e":7.17,"m":0.1623},{"e":7.195,"m":0.1595},{"e":7.22,"m":0.1568},{"e":7.245,"m":0.1541},{"e":7.27,"m":0.1515},{"e":7.295,"m":0.1488},{"e":7.32,"m":0.1463},{"e":7.345,"m":0.1438},{"e":7.37,"m":0.1412},{"e":7.395,"m":0.1387},{"e":7.42,"m":0.1366},{"e":7.445,"m":0.1346},{"e":7.47,"m":0.1331},{"e":7.495,"m":0.1323},{"e":7.52,"m":0.1326},{"e":7.545,"m":0.1345},{"e":7.57,"m":0.138},{"e":7.595,"m":0.143},{"e":7.62,"m":0.1491},{"e":7.645,"m":0.1551},{"e":7.67,"m":0.16},{"e":7.695,"m":0.1625},{"e":7.72,"m":0.1621},{"e":7.745,"m":0.1584},{"e":7.77,"m":0.1517},{"e":7.795,"m":0.1432},{"e":7.82,"m":0.1338},{"e":7.845,"m":0.1243},{"e":7.87,"m":0.1155},{"e":7.895,"m":0.108},{"e":7.92,"m":0.1019},{"e":7.945,"m":0.097},{"e":7.97,"m":0.0931},{"e":7.995,"m":0.0903},{"e":8.02,"m":0.0905},{"e":8.045,"m":0.0901},{"e":8.07,"m":0.0902},{"e":8.095,"m":0.0907},{"e":8.12,"m":0.0912},{"e":8.145,"m":0.0911},{"e":8.17,"m":0.0901},{"e":8.195,"m":0.088},{"e":8.22,"m":0.085},{"e":8.245,"m":0.0816},{"e":8.27,"m":0.0779},{"e":8.295,"m":0.0744},{"e":8.32,"m":0.0714},{"e":8.345,"m":0.0689},{"e":8.37,"m":0.0668},{"e":8.395,"m":0.0651},
{"e":8.5,"m":0.0596},{"e":8.6,"m":0.0552},{"e":8.7,"m":0.0511},{"e":8.8,"m":0.0472},{"e":8.9,"m":0.0436},{"e":9.0,"m":0.0402},{"e":9.1,"m":0.037},{"e":9.2,"m":0.0339},{"e":9.3,"m":0.031},{"e":9.4,"m":0.0283},{"e":9.42,"m":0.0278}
],
"cont":[
{"e":4.9,"m":0.61},{"e":5.0,"m":0.583},{"e":5.1,"m":0.557},{"e":5.2,"m":0.532},{"e":5.3,"m":0.507},{"e":5.4,"m":0.483},{"e":5.5,"m":0.46},{"e":5.6,"m":0.437},{"e":5.7,"m":0.415},{"e":5.8,"m":0.3935},{"e":5.9,"m":0.3727},{"e":6.0,"m":0.3527},{"e":6.1,"m":0.3334},{"e":6.2,"m":0.3148},{"e":6.3,"m":0.297},{"e":6.4,"m":0.2798},{"e":6.5,"m":0.2634},{"e":6.6,"m":0.2476},{"e":6.7,"m":0.2325},{"e":6.8,"m":0.2182},{"e":6.9,"m":0.2012},{"e":7.0,"m":0.1836},{"e":7.1,"m":0.1701},{"e":7.2,"m":0.1589},{"e":7.3,"m":0.1483},{"e":7.4,"m":0.1382},{"e":7.5,"m":0.1287},{"e":7.6,"m":0.1197},{"e":7.7,"m":0.1112},{"e":7.8,"m":0.1031},{"e":7.9,"m":0.0957},{"e":8.0,"m":0.0886},{"e":8.1,"m":0.0819},{"e":8.2,"m":0.0757},{"e":8.3,"m":0.0699},{"e":8.4,"m":0.0644},{"e":8.5,"m":0.0596},{"e":8.6,"m":0.0552},{"e":8.7,"m":0.0511},{"e":8.8,"m":0.0472},{"e":8.9,"m":0.0436},{"e":9.0,"m":0.0402},{"e":9.1,"m":0.037},{"e":9.2,"m":0.0339},{"e":9.3,"m":0.031},{"e":9.4,"m":0.0283},{"e":9.42,"m":0.0278}
],
"comp":[
{"e":6.36,"m":0.0069,"k":"c"},{"e":6.375,"m":0.0118,"k":"c"},{"e":6.39,"m":0.0195,"k":"c"},{"e":6.405,"m":0.0312,"k":"c"},{"e":6.42,"m":0.0481,"k":"c"},{"e":6.435,"m":0.0716,"k":"c"},{"e":6.45,"m":0.1029,"k":"c"},{"e":6.465,"m":0.143,"k":"c"},{"e":6.48,"m":0.1919,"k":"c"},{"e":6.495,"m":0.2488,"k":"c"},{"e":6.51,"m":0.3116,"k":"c"},{"e":6.525,"m":0.377,"k":"c"},{"e":6.54,"m":0.4405,"k":"c"},{"e":6.555,"m":0.4972,"k":"c"},{"e":6.57,"m":0.5421,"k":"c"},{"e":6.585,"m":0.571,"k":"c"},{"e":6.6,"m":0.581,"k":"c"},{"e":6.615,"m":0.571,"k":"c"},{"e":6.63,"m":0.5421,"k":"c"},{"e":6.645,"m":0.4972,"k":"c"},{"e":6.66,"m":0.4405,"k":"c"},{"e":6.675,"m":0.377,"k":"c"},{"e":6.69,"m":0.3116,"k":"c"},{"e":6.705,"m":0.2488,"k":"c"},{"e":6.72,"m":0.1919,"k":"c"},{"e":6.735,"m":0.143,"k":"c"},{"e":6.75,"m":0.1029,"k":"c"},{"e":6.765,"m":0.0716,"k":"c"},{"e":6.78,"m":0.0481,"k":"c"},{"e":6.795,"m":0.0312,"k":"c"},{"e":6.81,"m":0.0195,"k":"c"},{"e":6.825,"m":0.0118,"k":"c"},{"e":6.84,"m":0.0069,"k":"c"},
{"e":6.375,"m":0.0068,"k":"m"},{"e":6.39,"m":0.0106,"k":"m"},{"e":6.405,"m":0.0159,"k":"m"},{"e":6.42,"m":0.0229,"k":"m"},{"e":6.435,"m":0.032,"k":"m"},{"e":6.45,"m":0.0432,"k":"m"},{"e":6.465,"m":0.0562,"k":"m"},{"e":6.48,"m":0.0706,"k":"m"},{"e":6.495,"m":0.0857,"k":"m"},{"e":6.51,"m":0.1004,"k":"m"},{"e":6.525,"m":0.1136,"k":"m"},{"e":6.54,"m":0.124,"k":"m"},{"e":6.555,"m":0.1307,"k":"m"},{"e":6.57,"m":0.133,"k":"m"},{"e":6.585,"m":0.1307,"k":"m"},{"e":6.6,"m":0.124,"k":"m"},{"e":6.615,"m":0.1136,"k":"m"},{"e":6.63,"m":0.1004,"k":"m"},{"e":6.645,"m":0.0857,"k":"m"},{"e":6.66,"m":0.0706,"k":"m"},{"e":6.675,"m":0.0562,"k":"m"},{"e":6.69,"m":0.0432,"k":"m"},{"e":6.705,"m":0.032,"k":"m"},{"e":6.72,"m":0.0229,"k":"m"},{"e":6.735,"m":0.0159,"k":"m"},{"e":6.75,"m":0.0106,"k":"m"},{"e":6.765,"m":0.0068,"k":"m"},
{"e":6.705,"m":0.0053,"k":"g"},{"e":6.72,"m":0.0078,"k":"g"},{"e":6.735,"m":0.0111,"k":"g"},{"e":6.75,"m":0.0152,"k":"g"},{"e":6.765,"m":0.02,"k":"g"},{"e":6.78,"m":0.0254,"k":"g"},{"e":6.795,"m":0.0312,"k":"g"},{"e":6.81,"m":0.0368,"k":"g"},{"e":6.825,"m":0.0419,"k":"g"},{"e":6.84,"m":0.046,"k":"g"},{"e":6.855,"m":0.0486,"k":"g"},{"e":6.87,"m":0.0495,"k":"g"},{"e":6.885,"m":0.0486,"k":"g"},{"e":6.9,"m":0.046,"k":"g"},{"e":6.915,"m":0.0419,"k":"g"},{"e":6.93,"m":0.0368,"k":"g"},{"e":6.945,"m":0.0312,"k":"g"},{"e":6.96,"m":0.0254,"k":"g"},{"e":6.975,"m":0.02,"k":"g"},{"e":6.99,"m":0.0152,"k":"g"},{"e":7.005,"m":0.0111,"k":"g"},{"e":7.02,"m":0.0078,"k":"g"},{"e":7.035,"m":0.0053,"k":"g"},
{"e":7.54,"m":0.007,"k":"n"},{"e":7.56,"m":0.01,"k":"n"},{"e":7.58,"m":0.0135,"k":"n"},{"e":7.6,"m":0.0174,"k":"n"},{"e":7.62,"m":0.0211,"k":"n"},{"e":7.64,"m":0.0242,"k":"n"},{"e":7.66,"m":0.0263,"k":"n"},{"e":7.68,"m":0.027,"k":"n"},{"e":7.7,"m":0.0263,"k":"n"},{"e":7.72,"m":0.0242,"k":"n"},{"e":7.74,"m":0.0211,"k":"n"},{"e":7.76,"m":0.0174,"k":"n"},{"e":7.78,"m":0.0135,"k":"n"},{"e":7.8,"m":0.01,"k":"n"},{"e":7.82,"m":0.007,"k":"n"},
{"e":7.6,"m":0.0071,"k":"b"},{"e":7.62,"m":0.01,"k":"b"},{"e":7.64,"m":0.0135,"k":"b"},{"e":7.66,"m":0.0174,"k":"b"},{"e":7.68,"m":0.0214,"k":"b"},{"e":7.7,"m":0.0252,"k":"b"},{"e":7.72,"m":0.0283,"k":"b"},{"e":7.74,"m":0.0303,"k":"b"},{"e":7.76,"m":0.031,"k":"b"},{"e":7.78,"m":0.0303,"k":"b"},{"e":7.8,"m":0.0283,"k":"b"},{"e":7.82,"m":0.0252,"k":"b"},{"e":7.84,"m":0.0214,"k":"b"},{"e":7.86,"m":0.0174,"k":"b"},{"e":7.88,"m":0.0135,"k":"b"},{"e":7.9,"m":0.01,"k":"b"},{"e":7.92,"m":0.0071,"k":"b"},
{"e":8.07,"m":0.0063,"k":"y"},{"e":8.09,"m":0.008,"k":"y"},{"e":8.11,"m":0.0097,"k":"y"},{"e":8.13,"m":0.0112,"k":"y"},{"e":8.15,"m":0.0122,"k":"y"},{"e":8.17,"m":0.0125,"k":"y"},{"e":8.19,"m":0.0122,"k":"y"},{"e":8.21,"m":0.0112,"k":"y"},{"e":8.23,"m":0.0097,"k":"y"},{"e":8.25,"m":0.008,"k":"y"},{"e":8.27,"m":0.0063,"k":"y"}
],
"labs":[
{"e":6.73,"ge":6.834,"v":0.596,"t":"K","g":"α"},
{"e":7.457,"ge":7.764,"v":0.1984,"t":"Ni-K","g":"α"},
{"e":7.875,"ge":7.993,"v":0.1307,"t":"K","g":"β"},
{"e":8.345,"ge":8.472,"v":0.0902,"t":"K","g":"γ"}
]
},
"vconcat":[
{
"width":1700,"height":783,
"resolve":{"axis":{"x":"independent","y":"independent"}},
"layer":[
{"data":{"name":"spec"},"mark":{"type":"errorbar","color":"black","thickness":2.5,"clip":true},
 "encoding":{"x":{"field":"e","type":"quantitative","scale":{"type":"log","domain":[4.9,9.42],"nice":false},"axis":null},
  "y":{"field":"v","type":"quantitative","scale":{"type":"log","domain":[0.01,1],"nice":false},"axis":null},
  "yError":{"field":"s"}}},
{"data":{"name":"spec"},"mark":{"type":"errorbar","color":"black","thickness":2.5,"clip":true},
 "encoding":{"x":{"field":"e","type":"quantitative","axis":null},
  "y":{"field":"v","type":"quantitative","axis":null},
  "xError":{"field":"w"}}},
{"data":{"name":"mdl"},"mark":{"type":"line","color":"#ff0000","strokeWidth":4.5,"clip":true},
 "encoding":{
  "x":{"field":"e","type":"quantitative","axis":{"orient":"bottom","values":[5,6,7,8,9],"tickSize":-14,"labels":false,"title":null}},
  "y":{"field":"m","type":"quantitative","axis":{"orient":"left","values":[0.01,0.02,0.03,0.04,0.05,0.06,0.07,0.08,0.09,0.1,0.2,0.3,0.4,0.5,0.6,0.7,0.8,0.9,1],
   "tickSize":{"condition":{"test":"datum.value == 0.01 || datum.value == 0.1 || datum.value == 1","value":-28},"value":-15},
   "labelExpr":"datum.value == 1 ? '1' : datum.value == 0.1 ? '0.1' : datum.value == 0.01 ? '0.01' : ''",
   "labelAngle":-90,"labelAlign":"center","labelBaseline":"bottom","labelPadding":57,
   "title":"normalized counts/sec/keV","titleFontSize":49,"titleAngle":-90,"titleX":-148,"titleY":410,"titleAlign":"center","titleBaseline":"alphabetic"}}}},
{"data":{"name":"cont"},"mark":{"type":"line","color":"#0000ff","strokeWidth":4,"strokeDash":[40,14],"clip":true},
 "encoding":{
  "x":{"field":"e","type":"quantitative","axis":{"orient":"top","values":[5,6,7,8,9],"tickSize":-14,"labels":false,"title":null}},
  "y":{"field":"m","type":"quantitative","axis":{"orient":"right","values":[0.01,0.02,0.03,0.04,0.05,0.06,0.07,0.08,0.09,0.1,0.2,0.3,0.4,0.5,0.6,0.7,0.8,0.9,1],
   "tickSize":{"condition":{"test":"datum.value == 0.01 || datum.value == 0.1 || datum.value == 1","value":-28},"value":-15},
   "labels":false,"title":null}}}},
{"data":{"name":"comp"},"mark":{"type":"line","strokeWidth":4,"clip":true},
 "encoding":{
  "x":{"field":"e","type":"quantitative","axis":null},
  "y":{"field":"m","type":"quantitative","axis":null},
  "color":{"field":"k","type":"nominal","legend":null,"scale":{"domain":["c","m","g","n","b","y"],"range":["#00e8ff","#ff00ff","#00e000","#88dd00","#000000","#000000"]}},
  "strokeDash":{"field":"k","type":"nominal","legend":null,"scale":{"domain":["c","m","g","n","b","y"],"range":[[14,8,3,8],[4,10],[12,6,3,6,3,6],[14,9],[10,6,3,6],[3,6]]}}}},
{"data":{"name":"labs"},"mark":{"type":"text","font":"Liberation Sans","fontWeight":"bold","fontSize":48,"align":"left","baseline":"alphabetic","color":"black"},
 "encoding":{"x":{"field":"e","type":"quantitative","axis":null},"y":{"field":"v","type":"quantitative","axis":null},"text":{"field":"t"}}},
{"data":{"name":"labs"},"mark":{"type":"text","font":"Liberation Serif","fontStyle":"italic","fontSize":52,"align":"left","baseline":"alphabetic","color":"black"},
 "encoding":{"x":{"field":"ge","type":"quantitative","axis":null},"y":{"field":"v","type":"quantitative","axis":null},"text":{"field":"g"}}},
{"data":{"values":[{}]},"mark":{"type":"text","text":"bremss + zgauss","font":"Liberation Sans, Noto Sans CJK JP","fontSize":64,"align":"left","baseline":"alphabetic","color":"black"},
 "encoding":{"x":{"datum":5.093,"type":"quantitative","axis":null},"y":{"datum":0.0918,"type":"quantitative","axis":null}}},
{"data":{"values":[{}]},"mark":{"type":"text","text":"輝線エネルギーを","font":"Liberation Sans, Noto Sans CJK JP","fontSize":60,"align":"left","baseline":"alphabetic","color":"black"},
 "encoding":{"x":{"datum":5.093,"type":"quantitative","axis":null},"y":{"datum":0.0461,"type":"quantitative","axis":null}}},
{"data":{"values":[{}]},"mark":{"type":"text","text":"fix してフィッティング","font":"Liberation Sans, Noto Sans CJK JP","fontSize":53,"align":"left","baseline":"alphabetic","color":"black"},
 "encoding":{"x":{"datum":5.093,"type":"quantitative","axis":null},"y":{"datum":0.0304,"type":"quantitative","axis":null}}}
]
},
{
"width":1700,"height":381,
"resolve":{"axis":{"x":"independent","y":"independent"}},
"layer":[
{"data":{"name":"spec"},"mark":{"type":"errorbar","color":"black","thickness":2.5,"clip":true},
 "encoding":{
  "x":{"field":"e","type":"quantitative","scale":{"type":"log","domain":[4.9,9.42],"nice":false},
   "axis":{"orient":"bottom","values":[5,6,7,8,9],"tickSize":-14,"labelExpr":"datum.value == 5 ? '5' : ''","labelPadding":48,
    "title":"channel energy (keV)","titleFontSize":46,"titleX":863,"titleY":143,"titleAlign":"center","titleBaseline":"alphabetic"}},
  "y":{"field":"c","type":"quantitative","scale":{"domain":[-5.5,4.5],"nice":false,"zero":false},
   "axis":{"orient":"left","values":[-5,-4,-3,-2,-1,0,1,2,3,4],
    "tickSize":{"condition":{"test":"datum.value % 2 == 0","value":-28},"value":-15},
    "labelExpr":"datum.value % 2 == 0 ? datum.label : ''",
    "labelAngle":-90,"labelAlign":"center","labelBaseline":"bottom","labelPadding":57,
    "title":"χ","titleFont":"DejaVu Sans","titleFontSize":46,"titleAngle":-90,"titleX":-163,"titleY":184,"titleAlign":"center","titleBaseline":"middle"}},
  "yError":{"field":"u"}}},
{"data":{"name":"spec"},"mark":{"type":"errorbar","color":"black","thickness":2.5,"clip":true},
 "encoding":{
  "x":{"field":"e","type":"quantitative","axis":{"orient":"top","values":[5,6,7,8,9],"tickSize":-14,"labels":false,"title":null}},
  "y":{"field":"c","type":"quantitative","axis":{"orient":"right","values":[-5,-4,-3,-2,-1,0,1,2,3,4],
    "tickSize":{"condition":{"test":"datum.value % 2 == 0","value":-28},"value":-15},"labels":false,"title":null}},
  "xError":{"field":"w"}}},
{"data":{"values":[{}]},"mark":{"type":"rule","color":"black","strokeWidth":2.5},
 "encoding":{"y":{"datum":0,"type":"quantitative","axis":null}}}
]
}
],
"config":{
"view":{"stroke":"black","strokeWidth":3},
"axis":{"grid":false,"domain":false,"tickColor":"black","tickWidth":3,"labelFont":"Liberation Sans","labelFontSize":42,"labelColor":"black","titleFont":"Liberation Sans","titleFontWeight":"normal","titleColor":"black","labelOverlap":false,"labelFlush":false,"labelBound":false},
"font":"Liberation Sans"
}
}
